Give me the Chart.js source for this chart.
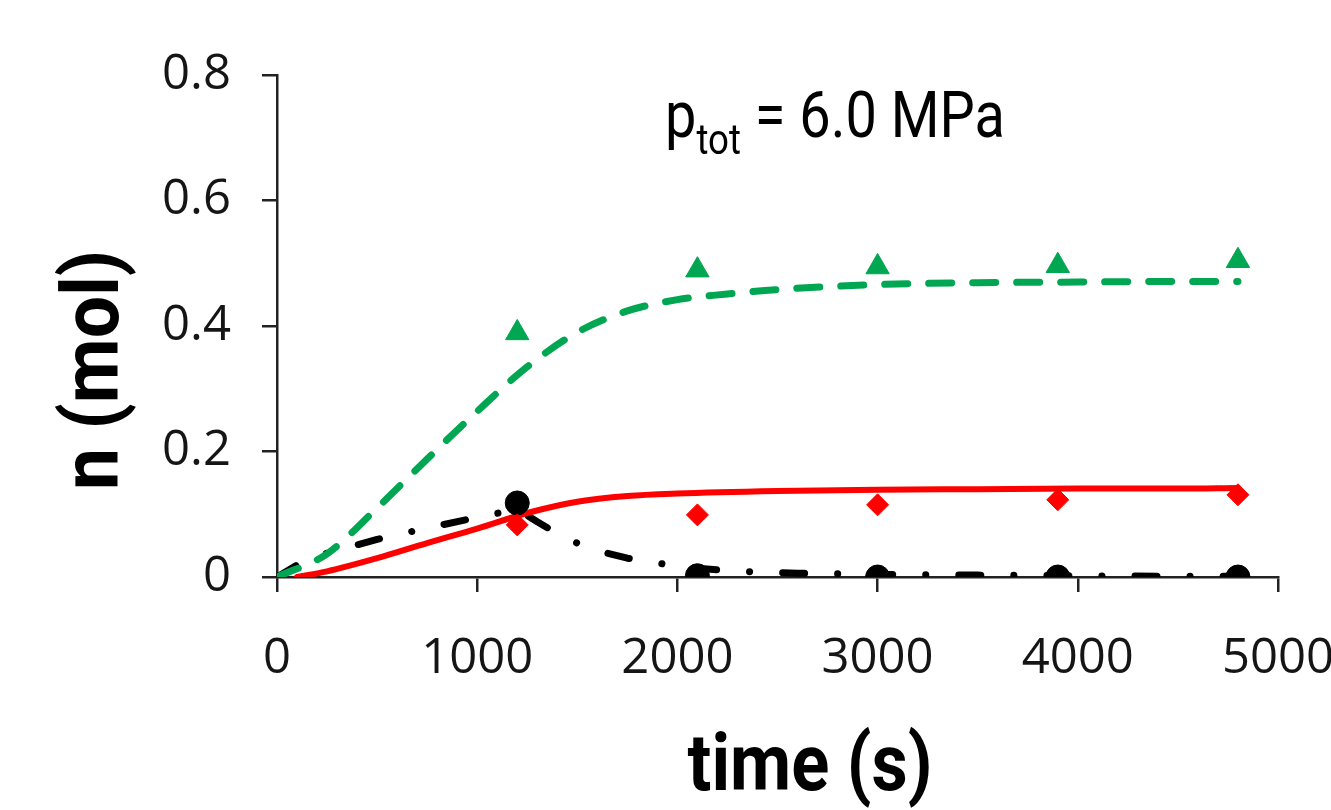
<!DOCTYPE html>
<html>
<head>
<meta charset="utf-8">
<script src="https://cdn.jsdelivr.net/npm/chart.js@4.4.1/dist/chart.umd.min.js"></script>
<style>
  html, body { margin: 0; padding: 0; background: #fff; }
  #wrap { width: 1331px; height: 810px; position: relative; }
</style>
</head>
<body>
<div id="wrap"><canvas id="c"></canvas></div>
<script>
// Measured amounts (mol) at the sampling times (s)
const sampleTimes = [1200, 2100, 3000, 3900, 4800];
const nGreenMeasured = [0.389, 0.489, 0.494, 0.496, 0.504];
const nRedMeasured = [0.083, 0.099, 0.115, 0.123, 0.131];
const nBlackMeasured = [0.118, 0.002, 0.000, 0.000, 0.000];

// Model curves
const greenModelTimes = [0, 250, 500, 750, 1000, 1250, 1500, 1750, 2000, 2250, 2500, 3000, 3500, 4000, 4500, 4800];
const greenModel = [0, 0.037, 0.110, 0.188, 0.264, 0.335, 0.390, 0.424, 0.442, 0.451, 0.458, 0.466, 0.469, 0.470, 0.471, 0.471];

const redModelTimes = [100, 250, 500, 750, 1000, 1250, 1500, 1750, 2000, 2500, 3000, 3500, 4000, 4500, 4800];
const redModel = [0, 0.009, 0.030, 0.054, 0.077, 0.102, 0.120, 0.129, 0.133, 0.137, 0.139, 0.140, 0.141, 0.141, 0.142];

const blackModelTimes = [0, 125, 250, 500, 750, 1000, 1200, 1300, 1450, 1600, 1750, 1900, 2100, 2300, 2600, 3000, 3500, 4000, 4500, 4800];
const blackModel = [0, 0.024, 0.038, 0.060, 0.078, 0.095, 0.108, 0.088, 0.060, 0.042, 0.030, 0.022, 0.014, 0.009, 0.006, 0.004, 0.003, 0.002, 0.001, 0.001];

// Axis tick labels
const xTickLabels = ['0', '1000', '2000', '3000', '4000', '5000'];
const yTickLabels = ['0', '0.2', '0.4', '0.6', '0.8'];

const GREEN = '#00a651';
const RED = '#ff0000';
const BLACK = '#000000';
const AXIS = '#222222';

const toPoints = (xs, ys) => xs.map((x, i) => ({ x: x, y: ys[i] }));

// Draws a line of text squeezed horizontally to a target width
function drawFitted(ctx, text, font, x, y, targetW, rot) {
  ctx.save();
  ctx.font = font;
  const w = ctx.measureText(text).width;
  ctx.translate(x, y);
  ctx.rotate(rot);
  ctx.scale(Math.min(1, targetW / w), 1);
  ctx.textAlign = 'center';
  ctx.textBaseline = 'alphabetic';
  ctx.fillText(text, 0, 0);
  ctx.restore();
}

const figureText = {
  id: 'figureText',
  afterDraw(chart) {
    const ctx = chart.ctx;
    ctx.save();
    ctx.fillStyle = '#000';
    const titleFont = '700 80px Roboto';
    drawFitted(ctx, 'n (mol)', titleFont, 118, 370, 240, -Math.PI / 2);
    drawFitted(ctx, 'time (s)', titleFont, 810, 790, 245, 0);

    // p_tot = 6.0 MPa
    const big = '400 64px Roboto';
    const small = '400 42px Roboto';
    ctx.font = big;
    const pW = ctx.measureText('p').width;
    const restW = ctx.measureText(' = 6.0 MPa').width;
    ctx.font = small;
    const subW = ctx.measureText('tot').width;
    const s = 340 / (pW + subW + restW);
    ctx.translate(665, 137);
    ctx.scale(s, 1);
    ctx.textAlign = 'left';
    ctx.textBaseline = 'alphabetic';
    ctx.font = big;
    ctx.fillText('p', 0, 0);
    ctx.fillText(' = 6.0 MPa', pW + subW, 0);
    ctx.font = small;
    ctx.fillText('tot', pW, 17);
    ctx.restore();
  }
};

const tickFont = { family: "'Open Sans', sans-serif", size: 49 };

new Chart(document.getElementById('c'), {
  type: 'scatter',
  data: {
    datasets: [
      {
        label: 'green measured', data: toPoints(sampleTimes, nGreenMeasured),
        pointStyle: 'triangle', pointRadius: 13.5, backgroundColor: GREEN, borderColor: GREEN,
        pointBorderWidth: 1, showLine: false, order: 0
      },
      {
        label: 'red measured', data: toPoints(sampleTimes, nRedMeasured),
        pointStyle: 'rectRot', pointRadius: 11, backgroundColor: RED, borderColor: RED,
        pointBorderWidth: 1, showLine: false, order: 0
      },
      {
        label: 'black measured', data: toPoints(sampleTimes, nBlackMeasured),
        pointStyle: 'circle', pointRadius: 12, backgroundColor: BLACK, borderColor: BLACK,
        pointBorderWidth: 1, showLine: false, order: 0
      },
      {
        label: 'green model', data: toPoints(greenModelTimes, greenModel),
        showLine: true, borderColor: GREEN, borderWidth: 7, borderDash: [23, 21],
        borderCapStyle: 'round', pointRadius: 0, cubicInterpolationMode: 'monotone', order: 2
      },
      {
        label: 'red model', data: toPoints(redModelTimes, redModel),
        showLine: true, borderColor: RED, borderWidth: 6,
        borderCapStyle: 'round', pointRadius: 0, cubicInterpolationMode: 'monotone', order: 1
      },
      {
        label: 'black model', data: toPoints(blackModelTimes, blackModel),
        showLine: true, borderColor: BLACK, borderWidth: 7, borderDash: [22, 33, 0.1, 33],
        borderCapStyle: 'round', borderJoinStyle: 'round', pointRadius: 0, tension: 0, order: 3
      }
    ]
  },
  options: {
    responsive: true,
    maintainAspectRatio: false,
    animation: false,
    events: [],
    layout: { padding: { left: 0, top: 75, right: 53, bottom: 0 } },
    plugins: { legend: { display: false }, tooltip: { enabled: false } },
    scales: {
      x: {
        type: 'linear', min: 0, max: 5000,
        border: { display: true, color: AXIS, width: 2.5 },
        grid: { display: true, drawOnChartArea: false, drawTicks: true, tickLength: 15, color: AXIS, lineWidth: 2.5 },
        ticks: {
          stepSize: 1000, padding: 38, color: '#151515', font: tickFont, maxRotation: 0,
          callback: (v) => xTickLabels[Math.round(v / 1000)]
        },
        afterFit: (scale) => { scale.height = 233; scale.paddingLeft = 0; scale.paddingRight = 0; }
      },
      y: {
        type: 'linear', min: 0, max: 0.8,
        border: { display: true, color: AXIS, width: 2.5 },
        grid: { display: true, drawOnChartArea: false, drawTicks: true, tickLength: 15, color: AXIS, lineWidth: 2.5 },
        ticks: {
          stepSize: 0.2, padding: 31, color: '#151515', font: tickFont,
          callback: (v) => yTickLabels[Math.round(v / 0.2)]
        },
        afterFit: (scale) => { scale.width = 277; }
      }
    }
  },
  plugins: [figureText]
});
</script>
</body>
</html>
